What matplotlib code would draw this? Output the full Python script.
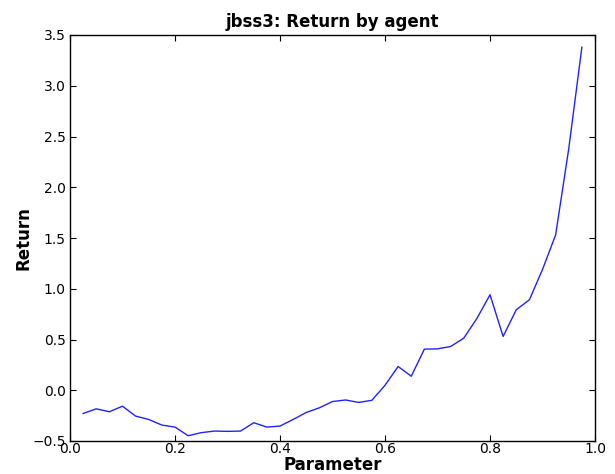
import numpy as np
import matplotlib
matplotlib.use("Agg")
import matplotlib.pyplot as plt

# valores
param = [0.025, 0.05, 0.075, 0.1, 0.125, 0.15, 0.175, 0.2, 0.225, 0.25,
         0.275, 0.3, 0.325, 0.35, 0.375, 0.4, 0.425, 0.45, 0.475, 0.5,
         0.525, 0.55, 0.575, 0.6, 0.625, 0.65, 0.675, 0.7, 0.725, 0.75,
         0.775, 0.8, 0.825, 0.85, 0.875, 0.9, 0.925, 0.95, 0.975]
ret = [-0.229, -0.183, -0.212, -0.157, -0.255, -0.288, -0.343, -0.363, -0.448, -0.418,
       -0.402, -0.405, -0.402, -0.320, -0.363, -0.353, -0.288, -0.219, -0.173, -0.111,
       -0.096, -0.120, -0.099, 0.049, 0.234, 0.138, 0.405, 0.408, 0.431, 0.513,
       0.707, 0.941, 0.530, 0.793, 0.891, 1.19, 1.53, 2.38, 3.38]

fig = plt.figure(figsize=(6.15, 4.74), dpi=100)
ax = fig.add_axes([70/615, 33/474, 525/615, 406/474])

ax.plot(param, ret, color='#2222ff', linewidth=1.0)
ax.set_xlim(0.0, 1.0)
ax.set_ylim(-0.5, 3.5)
ax.set_xticks(np.arange(0, 1.01, 0.2))
ax.set_yticks(np.arange(-0.5, 3.51, 0.5))

ax.tick_params(direction='in', top=True, right=True, length=4, labelsize=10)
ax.tick_params(axis='x', pad=1)
ax.tick_params(axis='y', pad=3)
for s in ax.spines.values():
    s.set_linewidth(1.0)

ax.set_title('jbss3: Return by agent', fontsize=12, fontweight='bold')
ax.set_xlabel('Parameter', fontsize=12, fontweight='bold', labelpad=0)
ax.set_ylabel('Return', fontsize=12, fontweight='bold', labelpad=0)

fig.savefig('out.png', dpi=100)
